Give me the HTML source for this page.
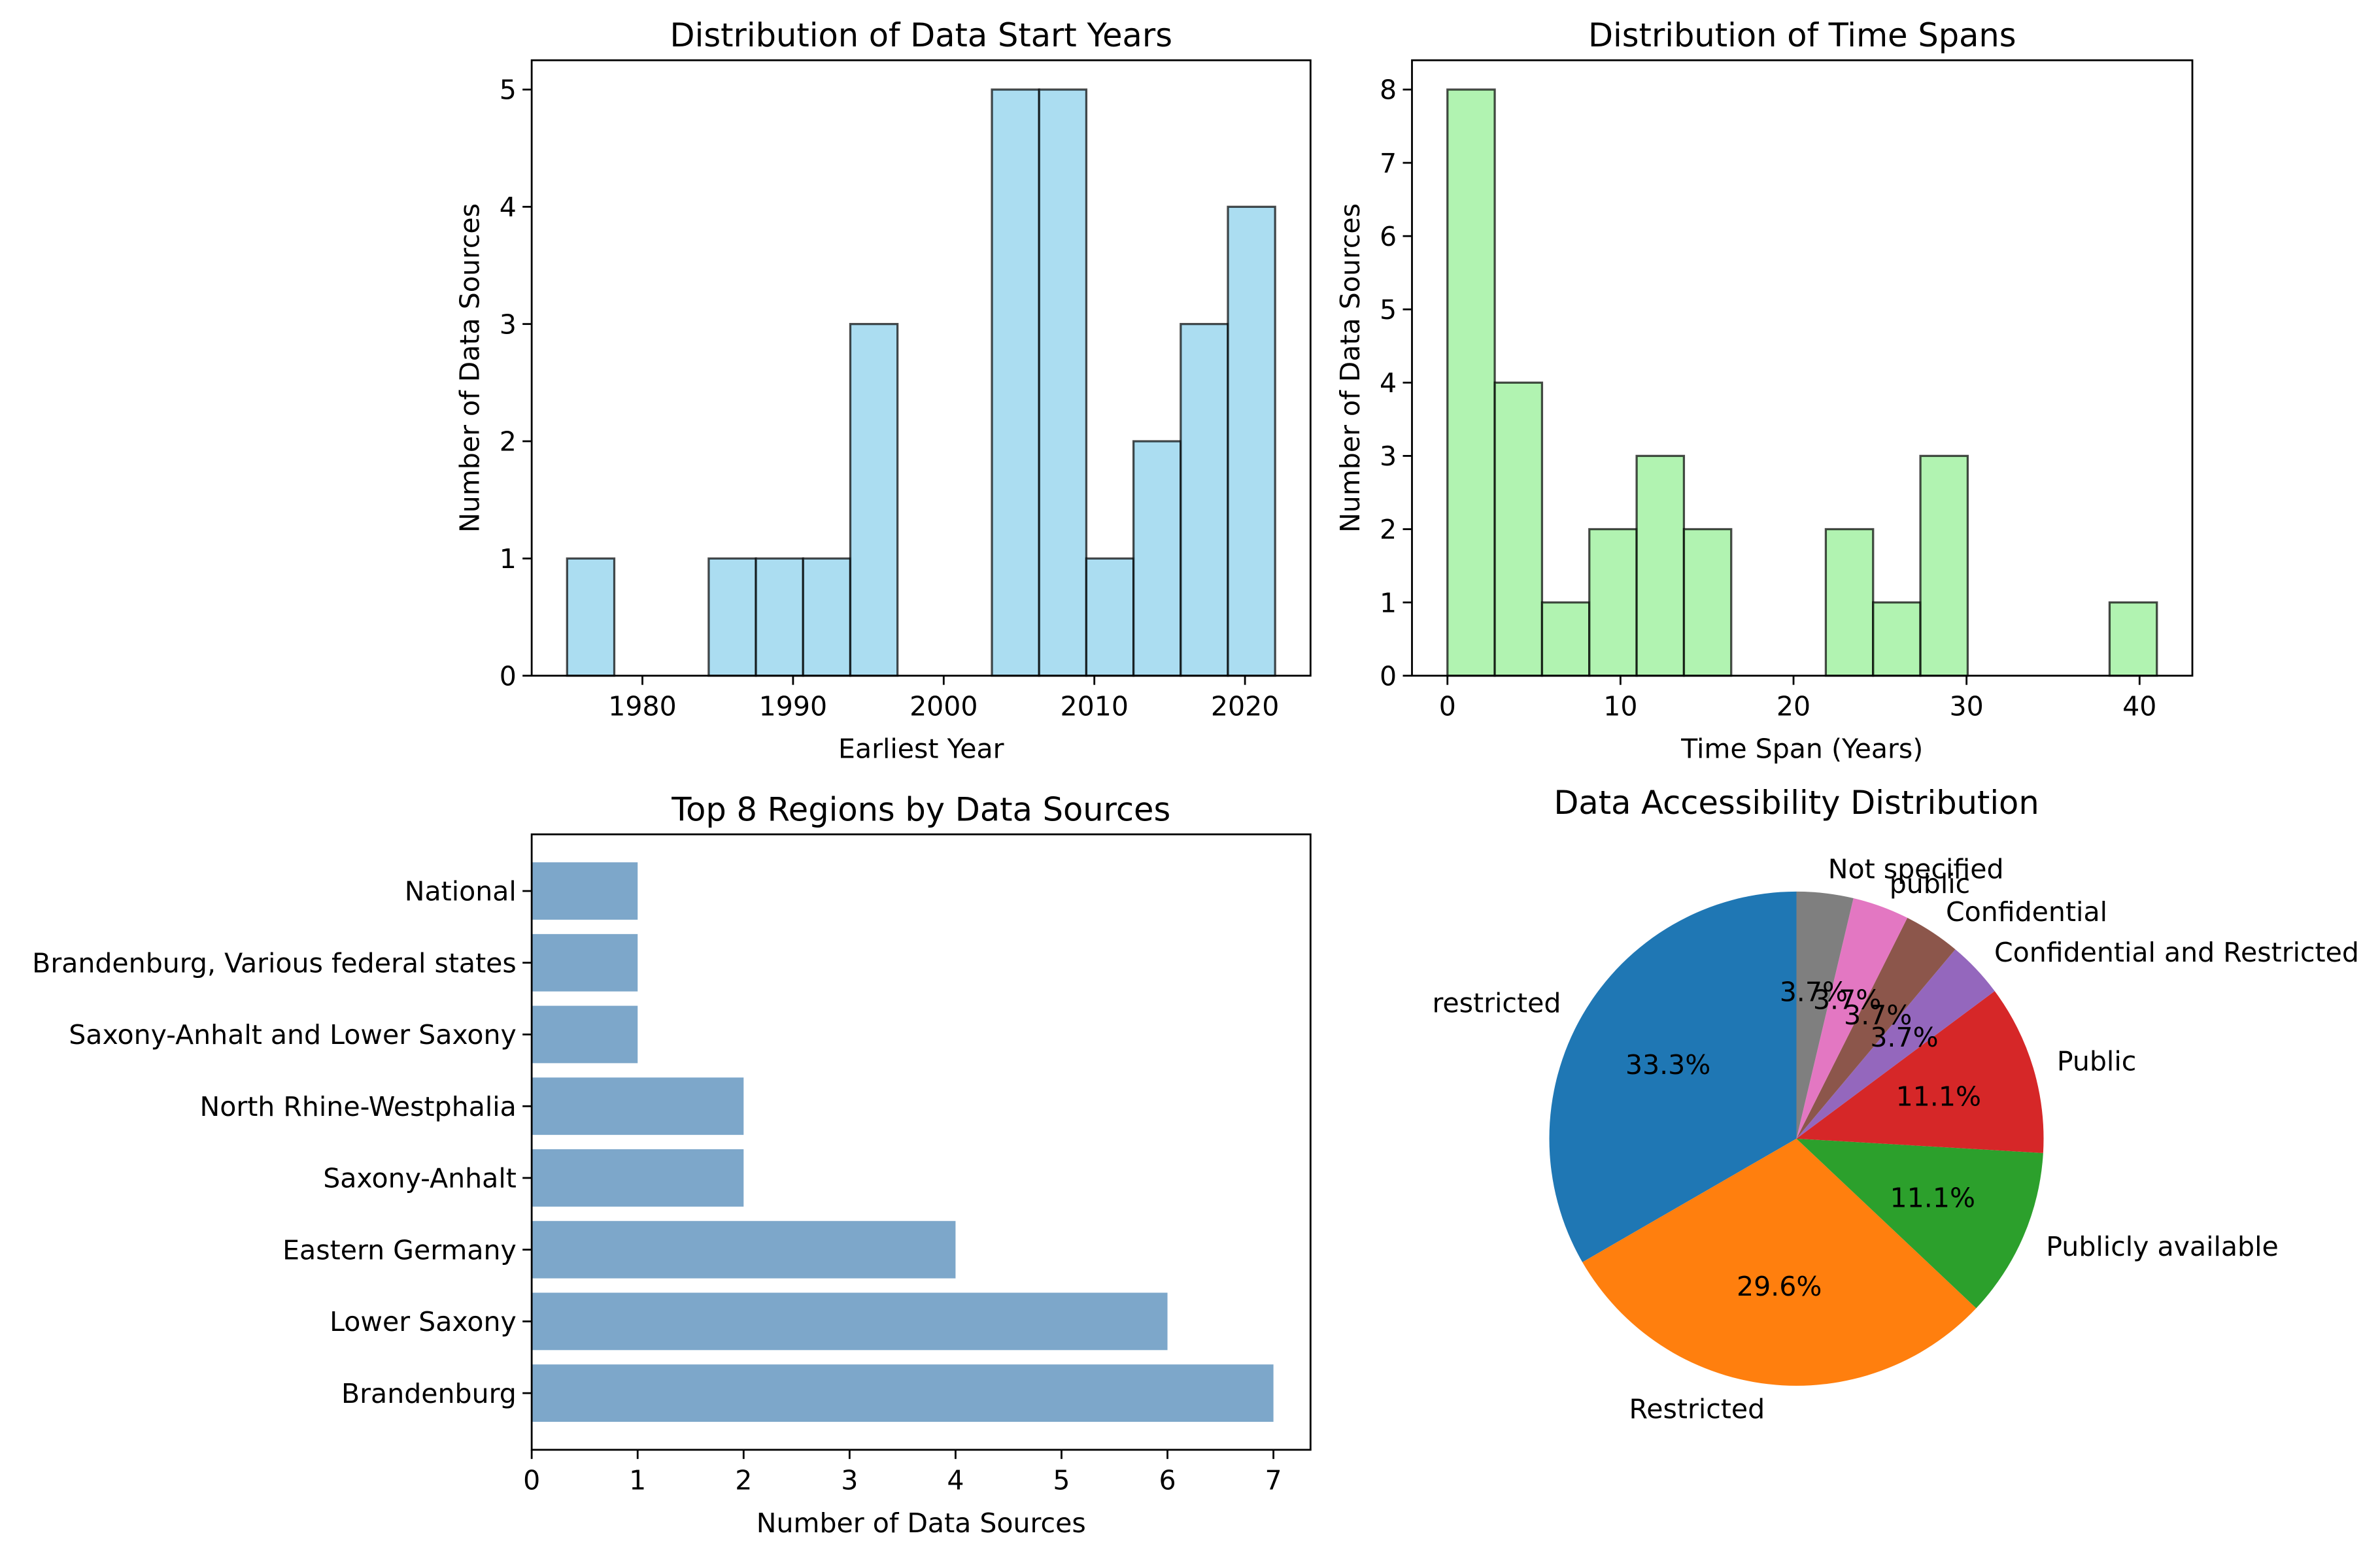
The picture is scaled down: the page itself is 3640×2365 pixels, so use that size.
<!DOCTYPE html>
<html><head><meta charset="utf-8"><style>
html,body{margin:0;padding:0;background:#fff;}
svg{display:block;font-family:"DejaVu Sans","Liberation Sans",sans-serif;}
</style></head><body>
<svg id="fig" width="3640" height="2365" viewBox="0 0 1560 1013.57" xmlns="http://www.w3.org/2000/svg"></svg>
<script>
// ---- data ----
const startYearCounts = [1,0,0,1,1,1,3,0,0,5,5,1,2,3,4];
const startYearRange = [1975, 2022];
const startYearTicks = [1980,1990,2000,2010,2020];
const startYearYTicks = [0,1,2,3,4,5];
const spanCounts = [8,4,1,2,3,2,0,0,2,1,3,0,0,0,1];
const spanRange = [0, 41];
const spanTicks = [0,10,20,30,40];
const spanYTicks = [0,1,2,3,4,5,6,7,8];
const regionNames = ["Brandenburg","Lower Saxony","Eastern Germany","Saxony-Anhalt","North Rhine-Westphalia","Saxony-Anhalt and Lower Saxony","Brandenburg, Various federal states","National"];
const regionCounts = [7,6,4,2,2,1,1,1];
const regionTicks = [0,1,2,3,4,5,6,7];
const accessLabels = ["restricted","Restricted","Publicly available","Public","Confidential and Restricted","Confidential","public","Not specified"];
const accessCounts = [9,8,3,3,1,1,1,1];
const accessColors = ["#1f77b4","#ff7f0e","#2ca02c","#d62728","#9467bd","#8c564b","#e377c2","#7f7f7f"];

const svg = document.getElementById('fig');
const NS = 'http://www.w3.org/2000/svg';
function mk(tag, attrs, parent){
  const e = document.createElementNS(NS, tag);
  for (const k in attrs) e.setAttribute(k, attrs[k]);
  (parent||svg).appendChild(e);
  return e;
}
function txt(s, x, y, size, anchor, parent, extra){
  const t = mk('text', Object.assign({x:x, y:y, 'font-size':size, 'text-anchor':anchor||'middle', fill:'#000'}, extra||{}), parent);
  t.textContent = s;
  return t;
}
const TICK = 17.6, TITLE = 21.2, TL = 6;

function histogram(opts){
  const g = mk('g', {});
  
  
  const L=opts.L, R=opts.R, T=opts.T, B=opts.B;
  const [lo, hi] = opts.range;
  const pad = (hi-lo)*0.05;
  const xmin = lo-pad, xmax = hi+pad;
  const ymax = Math.max(...opts.counts)*1.05;
  const X = v => L + (v-xmin)/(xmax-xmin)*(R-L);
  const Y = v => B - v/ymax*(B-T);
  const n = opts.counts.length, w = (hi-lo)/n;
  opts.counts.forEach((c,i)=>{
    const x0 = X(lo+i*w), x1 = X(lo+(i+1)*w);
    const r = mk('rect', {x:x0, y:Y(c), width:x1-x0, height:B-Y(c), fill:opts.fill, 'fill-opacity':0.7, stroke:'#000', 'stroke-opacity':0.7, 'stroke-width':1.4}, g);
    
    
  });
  mk('rect', {x:L, y:T, width:R-L, height:B-T, fill:'none', stroke:'#000', 'stroke-width':1.2}, g);
  opts.xticks.forEach(v=>{
    mk('line', {x1:X(v), x2:X(v), y1:B, y2:B+TL, stroke:'#000', 'stroke-width':1.2}, g);
    const t = txt(String(v), X(v), B+26, TICK, 'middle', g);
    
    
  });
  opts.yticks.forEach(v=>{
    mk('line', {x1:L-TL, x2:L, y1:Y(v), y2:Y(v), stroke:'#000', 'stroke-width':1.2}, g);
    const t = txt(String(v), L-10, Y(v)+6.3, TICK, 'end', g);
    
    
  });
  const tt = txt(opts.title, (L+R)/2, T-9, TITLE, 'middle', g);
  
  
  const xl = txt(opts.xlabel, (L+R)/2, B+54, TICK, 'middle', g);
  
  
  const yl = txt(opts.ylabel, 0, 0, TICK, 'middle', g, {transform:`translate(${opts.ylabelX},${(T+B)/2}) rotate(-90)`});
  
  
}

histogram({name:'start-year-histogram', L:348.5, R:859, T:39.5, B:443, range:startYearRange, counts:startYearCounts,
  xticks:startYearTicks, yticks:startYearYTicks, fill:'skyblue', title:'Distribution of Data Start Years',
  xlabel:'Earliest Year', ylabel:'Number of Data Sources', ylabelX:314});
histogram({name:'time-span-histogram', L:925.5, R:1437, T:39.5, B:443, range:spanRange, counts:spanCounts,
  xticks:spanTicks, yticks:spanYTicks, fill:'lightgreen', title:'Distribution of Time Spans',
  xlabel:'Time Span (Years)', ylabel:'Number of Data Sources', ylabelX:891});

// ---- horizontal bar chart ----
(function(){
  const g = mk('g', {});
  
  
  const L=348.5, R=859, T=547, B=950.5;
  const n = regionNames.length;
  const xmax = Math.max(...regionCounts)*1.05;
  const X = v => L + v/xmax*(R-L);
  const ylo = -0.4-0.05*(n-1+0.8), yhi = n-1+0.4+0.05*(n-1+0.8);
  const Y = v => B - (v-ylo)/(yhi-ylo)*(B-T);
  regionCounts.forEach((c,i)=>{
    const r = mk('rect', {x:X(0), y:Y(i+0.4), width:X(c)-X(0), height:Y(i-0.4)-Y(i+0.4), fill:'steelblue', 'fill-opacity':0.7}, g);
    
    
    mk('line', {x1:L-TL, x2:L, y1:Y(i), y2:Y(i), stroke:'#000', 'stroke-width':1.2}, g);
    const t = txt(regionNames[i], L-10, Y(i)+6.3, TICK, 'end', g);
    
    
  });
  mk('rect', {x:L, y:T, width:R-L, height:B-T, fill:'none', stroke:'#000', 'stroke-width':1.2}, g);
  regionTicks.forEach(v=>{
    mk('line', {x1:X(v), x2:X(v), y1:B, y2:B+TL, stroke:'#000', 'stroke-width':1.2}, g);
    const t = txt(String(v), X(v), B+26, TICK, 'middle', g);
    
    
  });
  const tt = txt('Top 8 Regions by Data Sources', (L+R)/2, T-9, TITLE, 'middle', g);
  
  
  const xl = txt('Number of Data Sources', (L+R)/2, B+54, TICK, 'middle', g);
  
  
})();

// ---- pie chart ----
(function(){
  const g = mk('g', {});
  
  
  const cx=1177.5, cy=746.5, r=162;
  const total = accessCounts.reduce((a,b)=>a+b,0);
  let a0 = 90;
  const P = (ang, rr) => [cx + rr*Math.cos(ang*Math.PI/180), cy - rr*Math.sin(ang*Math.PI/180)];
  const labels = [];
  accessCounts.forEach((c,i)=>{
    const sweep = c/total*360, a1 = a0+sweep;
    const [x0,y0] = P(a0,r), [x1,y1] = P(a1,r);
    const p = mk('path', {d:`M${cx},${cy} L${x0},${y0} A${r},${r} 0 ${sweep>180?1:0} 0 ${x1},${y1} Z`, fill:accessColors[i]}, g);
    
    
    labels.push([i, (a0+a1)/2, c]);
    a0 = a1;
  });
  labels.forEach(([i, mid, c])=>{
    const [lx,ly] = P(mid, r*1.1);
    const cosv = Math.cos(mid*Math.PI/180);
    const t = txt(accessLabels[i], lx, ly+6.3, TICK, cosv>=0?'start':'end', g);
    
    
    const [px,py] = P(mid, r*0.6);
    const pt = txt((c/total*100).toFixed(1)+'%', px, py+6.3, TICK, 'middle', g);
    
    
  });
  const tt = txt('Data Accessibility Distribution', cx, 533.5, TITLE, 'middle', g);
  
  
})();
</script>
</body></html>
